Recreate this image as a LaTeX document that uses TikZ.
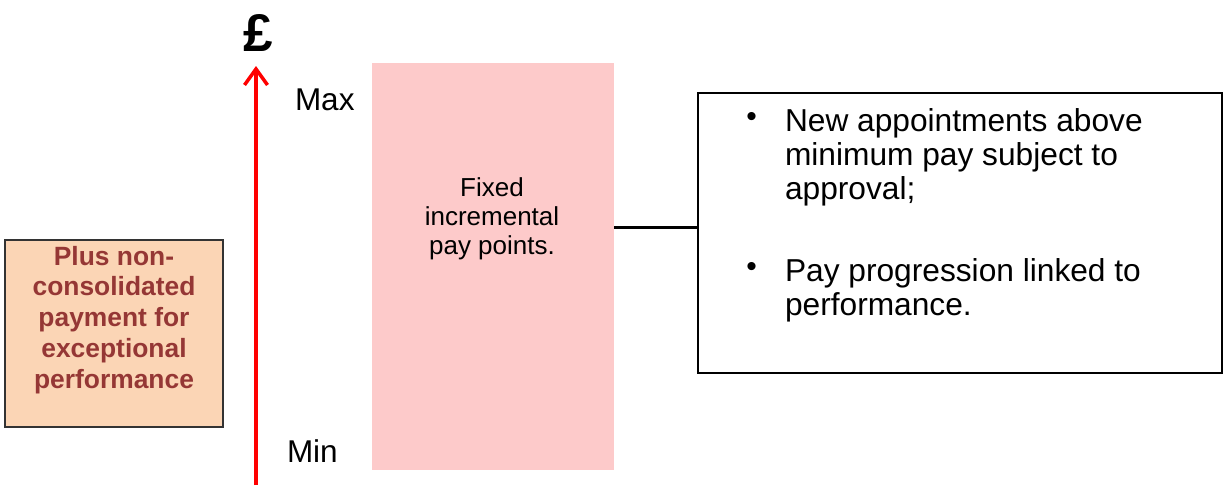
\documentclass[tikz,border=0pt]{standalone}
\usepackage{fontspec}
\setmainfont{Liberation Sans}
\usetikzlibrary{calc,arrows.meta}
\definecolor{paypink}{RGB}{253,202,202}
\definecolor{bonusfill}{RGB}{251,213,181}
\definecolor{bonusred}{RGB}{149,55,53}
\tikzset{
  plain/.style={inner sep=0pt, outer sep=0pt},
  bigtext/.style={plain, font=\fontsize{31.5}{34}\selectfont},
  listtext/.style={plain, align=left, font=\fontsize{31.7}{34}\selectfont},
  dotmark/.style={plain, font=\fontsize{30}{30}\selectfont},
}

\begin{document}
\begin{tikzpicture}[x=1pt,y=-1pt]
		%%%%% START %%%%%
		\useasboundingbox (0,0) rectangle (1224,485);
		
		% pound axis
		\coordinate (axisbot) at (256,485);
		\coordinate (axistop) at (256,66);
		\draw[red, line width=3.5pt, -{Straight Barb[length=16pt,width=23pt]}] (axisbot) -- (axistop);
		\node[plain, font=\bfseries\fontsize{53}{53}\selectfont, anchor=base] (pound) at (258.5,51) {£};
		\node[bigtext, anchor=base west] (max) at (295,110) {Max};
		\node[bigtext, anchor=base west] (min) at (287,462) {Min};
		
		% pay range
		\node[plain, fill=paypink, minimum width=242, minimum height=407] (pay) at (493,266.5) {};
		\node[plain, align=center, font=\fontsize{26}{29}\selectfont] (paytext) at (492,219) {Fixed\\incremental\\pay points.};
		
		% bonus
		\node[plain, draw=black!80, line width=1.5pt, fill=bonusfill, minimum width=218, minimum height=187] (bonus) at (114,333.5) {};
		\node[plain, align=center, text=bonusred, font=\bfseries\fontsize{26.4}{30.7}\selectfont] (bonuslabel) at (114,319.8) {Plus non-\\consolidated\\payment for\\exceptional\\performance};
		
		% rules box
		\node[plain, draw, line width=2.5pt, minimum width=524, minimum height=280] (info) at (960,233) {};
		\node[dotmark] (dot1) at (751.7,119) {\textbullet};
		\node[listtext, anchor=west] (rule1) at (785,157.8) {New appointments above\\minimum pay subject to\\approval;};
		\node[dotmark] (dot2) at (751.7,269) {\textbullet};
		\node[listtext, anchor=west] (rule2) at (785,290.5) {Pay progression linked to\\performance.};
		
		\coordinate (link) at ($(info.north west)!0.48!(info.south west)$);
		\draw[line width=2.5pt] (pay.east |- link) -- (link);
		%%%%% END %%%%%
\end{tikzpicture}
\end{document}
